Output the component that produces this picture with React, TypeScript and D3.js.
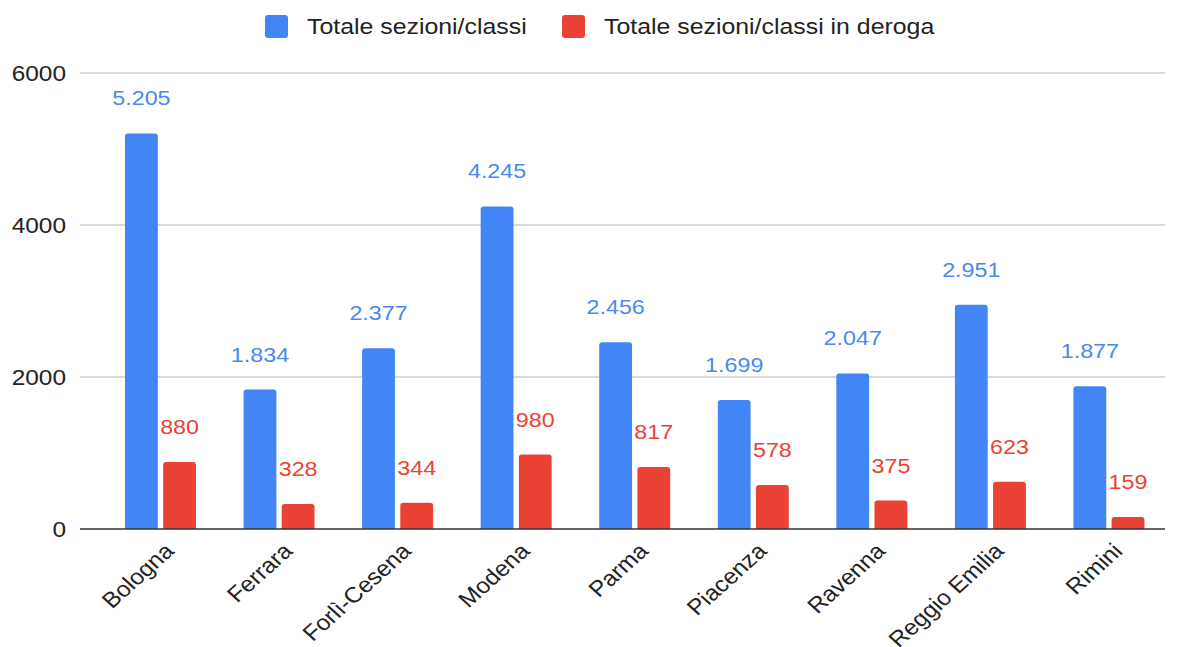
import React, { useEffect, useRef } from "react";
import * as d3 from "d3";

const categories = ["Bologna", "Ferrara", "Forlì-Cesena", "Modena", "Parma", "Piacenza", "Ravenna", "Reggio Emilia", "Rimini"];
const totali = [5205, 1834, 2377, 4245, 2456, 1699, 2047, 2951, 1877];
const deroga = [880, 328, 344, 980, 817, 578, 375, 623, 159];
const seriesNames = ["Totale sezioni/classi", "Totale sezioni/classi in deroga"];
const seriesColors = ["#4285F4", "#EA4335"];
const labelColors = ["#4a89f0", "#EA4335"];
const yTicks = [0, 2000, 4000, 6000];

const W = 1179;
const H = 647;
// the reference text looks a little stretched sideways
const SX = 1.11;

const App = () => {
  const svgRef = useRef<SVGSVGElement>(null);

  useEffect(() => {
    document.body.style.margin = "0";
    const svg = d3.select(svgRef.current);
    svg.selectAll("*").remove();

    const left = 80;
    const right = 1165;
    const top = 73;
    const bottom = 529;

    const y = d3.scaleLinear().domain([0, 6000]).range([bottom, top]);
    const x0 = d3.scaleBand<string>().domain(categories).range([101, 1168]).paddingInner(0);
    const x1 = d3.scaleBand<number>().domain([0, 1]).range([24, 95]).paddingInner(0.14);

    const axisFont = "Arial, 'Liberation Sans', sans-serif";
    const labelFont = "Arial, 'Liberation Sans', sans-serif";

    // grid lines
    svg
      .append("g")
      .selectAll("line")
      .data(yTicks.filter((t) => t > 0))
      .enter()
      .append("line")
      .attr("x1", left)
      .attr("x2", right)
      .attr("y1", (d) => y(d))
      .attr("y2", (d) => y(d))
      .attr("stroke", "#cccccc")
      .attr("stroke-width", 1.5);

    // y tick labels
    svg
      .append("g")
      .selectAll("text")
      .data(yTicks)
      .enter()
      .append("text")
      .attr("transform", (d) => `translate(66,${y(d)}) scale(${SX},1)`)
      .attr("dy", "0.35em")
      .attr("text-anchor", "end")
      .attr("font-family", axisFont)
      .attr("font-size", 22)
      .attr("fill", "#222")
      .text((d) => d);

    const rows = categories.map((c, i) => ({ cat: c, vals: [totali[i], deroga[i]] }));

    // rounded top bars
    const barPath = (x: number, w: number, yTop: number, r: number) => {
      const rr = Math.min(r, (bottom - yTop) / 2);
      return `M${x},${bottom}V${yTop + rr}Q${x},${yTop} ${x + rr},${yTop}H${x + w - rr}Q${x + w},${yTop} ${x + w},${yTop + rr}V${bottom}Z`;
    };

    const groups = svg
      .append("g")
      .selectAll("g")
      .data(rows)
      .enter()
      .append("g")
      .attr("transform", (d) => `translate(${x0(d.cat)},0)`);

    groups
      .selectAll("path")
      .data((d) => d.vals.map((v, s) => ({ v, s })))
      .enter()
      .append("path")
      .attr("d", (d) => barPath(x1(d.s)!, x1.bandwidth(), y(d.v), 3))
      .attr("fill", (d) => seriesColors[d.s]);

    const fmt = (v: number) => (v >= 1000 ? d3.format(",")(v).replace(",", ".") : String(v));

    groups
      .selectAll("text")
      .data((d) => d.vals.map((v, s) => ({ v, s })))
      .enter()
      .append("text")
      .attr("transform", (d) => `translate(${x1(d.s)! + x1.bandwidth() / 2},${y(d.v) - 28}) scale(${SX},1)`)
      .attr("text-anchor", "middle")
      .attr("font-family", labelFont)
      .attr("font-size", 21)
      .attr("fill", (d) => labelColors[d.s])
      .attr("stroke", "#fff")
      .attr("stroke-width", 4)
      .attr("stroke-linejoin", "round")
      .attr("paint-order", "stroke")
      .text((d) => fmt(d.v));

    // baseline
    svg
      .append("line")
      .attr("x1", left)
      .attr("x2", right)
      .attr("y1", bottom)
      .attr("y2", bottom)
      .attr("stroke", "#333")
      .attr("stroke-width", 1.5);

    // x labels
    svg
      .append("g")
      .selectAll("text")
      .data(categories)
      .enter()
      .append("text")
      .attr("transform", (d) => `translate(${x0(d)! + x0.bandwidth() / 2 + 9},${bottom + 18}) scale(${SX},1) rotate(-45)`)
      .attr("text-anchor", "end")
      .attr("dy", "0.35em")
      .attr("font-family", axisFont)
      .attr("font-size", 22)
      .attr("fill", "#222")
      .text((d) => d);

    // legend
    const legendX = [265, 562];
    const legend = svg
      .append("g")
      .selectAll("g")
      .data(seriesNames)
      .enter()
      .append("g")
      .attr("transform", (_, i) => `translate(${legendX[i]},15)`);
    legend
      .append("rect")
      .attr("width", 23)
      .attr("height", 23)
      .attr("rx", 3)
      .attr("fill", (_, i) => seriesColors[i]);
    legend
      .append("text")
      .attr("transform", `translate(42,19) scale(${SX + 0.02},1)`)
      .attr("font-family", axisFont)
      .attr("font-size", 22)
      .attr("fill", "#222")
      .text((d) => d);
  }, []);

  return <svg ref={svgRef} width={W} height={H} style={{ display: "block", background: "#fff" }}></svg>;
};

export default App;
